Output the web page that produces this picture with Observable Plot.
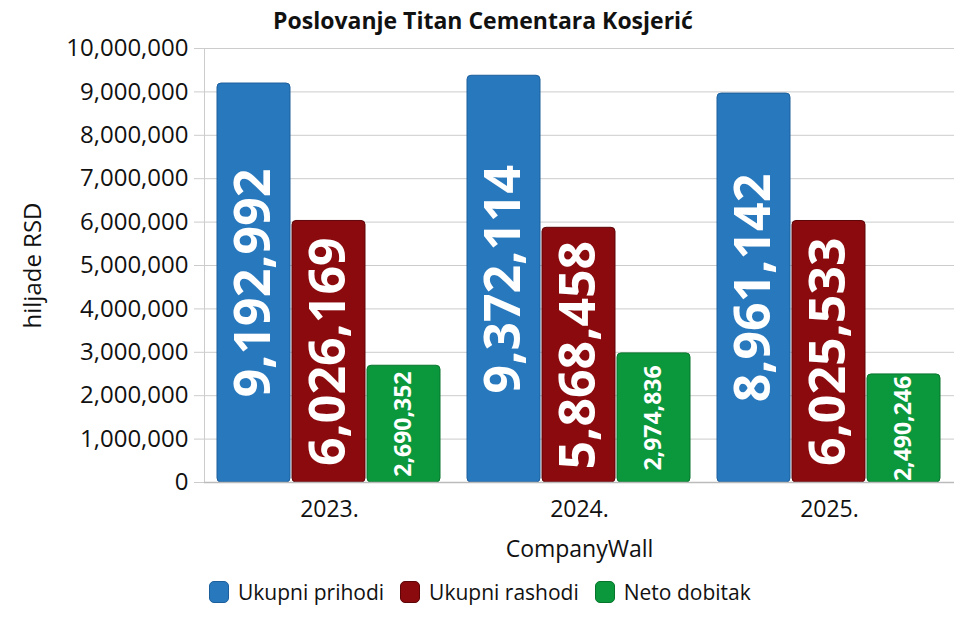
<!DOCTYPE html>
<html>
<head>
<meta charset="utf-8">
<script src="https://cdn.jsdelivr.net/npm/d3@7"></script>
<script src="https://cdn.jsdelivr.net/npm/@observablehq/plot@0.6"></script>
<style>
  html, body { margin: 0; padding: 0; background: #fff; }
  #wrap { position: relative; width: 966px; height: 630px; font-family: "Open Sans", sans-serif; color: #111; }
  #title { position: absolute; left: 0; top: 5px; width: 966px; text-align: center; font-weight: bold; font-size: 23px; line-height: 30px; }
  #chart { position: absolute; left: 0; top: 0; }
  #legend { position: absolute; left: 209px; top: 578px; display: flex; align-items: center; font-size: 21px; line-height: 28px; }
  .item { display: flex; align-items: center; margin-right: 16px; }
  .sw { width: 20px; height: 22px; border-radius: 5px; margin-right: 9px; box-sizing: border-box; border: 1px solid; }
</style>
</head>
<body>
<div id="wrap">
  <div id="chart"></div>
  <div id="title">Poslovanje Titan Cementara Kosjerić</div>
  <div id="legend"></div>
</div>
<script>
const years = ["2023.", "2024.", "2025."];
const series = ["Ukupni prihodi", "Ukupni rashodi", "Neto dobitak"];
const prihodi = [9192992, 9372114, 8961142];
const rashodi = [6026169, 5868458, 6025533];
const dobitak = [2690352, 2974836, 2490246];
const yTicks = [0, 1000000, 2000000, 3000000, 4000000, 5000000, 6000000, 7000000, 8000000, 9000000, 10000000];
const colors = ["#2878bd", "#8b0a0e", "#0b983c"];
const strokes = ["#1d5f9c", "#5e0508", "#08752d"];

const valuesBySeries = [prihodi, rashodi, dobitak];
const data = years.flatMap((y, i) =>
  series.map((s, j) => ({ year: y, series: s, value: valuesBySeries[j][i] }))
);
const fmt = d3.format(",");
const strokeOf = s => strokes[series.indexOf(s)];

const chart = Plot.plot({
  width: 966,
  height: 570,
  marginTop: 48,
  marginBottom: 88,
  marginLeft: 204,
  marginRight: 12,
  style: { fontFamily: "Open Sans, sans-serif", fontSize: "23px", color: "#111", background: "transparent" },
  fx: { domain: years, padding: 0 },
  x: { domain: series, axis: null, paddingInner: 0.026, paddingOuter: 0.158 },
  y: { domain: [0, 10000000] },
  color: { domain: series, range: colors },
  marks: [
    Plot.gridY(yTicks, { stroke: "#cccccc", strokeOpacity: 1 }),
    Plot.frame({ anchor: "left", facet: "super", stroke: "#cccccc" }),
    Plot.axisY(yTicks, {
      tickFormat: fmt, tickSize: 10, tickPadding: 6, stroke: "#cccccc",
      fill: "#111", fontSize: 24,
      label: "hiljade RSD", labelAnchor: "center", labelArrow: "none", labelOffset: 181
    }),
    Plot.axisFx({
      anchor: "bottom", tickSize: 0, tickPadding: 18, fontSize: 23, fill: "#111",
      label: "CompanyWall", labelAnchor: "center", labelArrow: "none", labelOffset: 74
    }),
    Plot.barY(data, {
      fx: "year", x: "series", y: "value", fill: "series",
      stroke: d => strokeOf(d.series), strokeWidth: 1, rx: 4
    }),
    Plot.ruleY([0], { stroke: "#bbbbbb", strokeWidth: 1.5 }),
    Plot.text(data, {
      fx: "year", x: "series", y: d => d.value / 2,
      text: d => fmt(d.value), rotate: -90, fill: "white", fontWeight: "bold",
      fontSize: d => (d.series === "Neto dobitak" ? 23 : 50),
      fontFamily: "Open Sans, sans-serif"
    })
  ]
});
document.getElementById("chart").appendChild(chart);

const legend = document.getElementById("legend");
series.forEach((s, j) => {
  const item = document.createElement("div");
  item.className = "item";
  const sw = document.createElement("div");
  sw.className = "sw";
  sw.style.background = colors[j];
  sw.style.borderColor = strokes[j];
  const label = document.createElement("span");
  label.textContent = s;
  item.appendChild(sw);
  item.appendChild(label);
  legend.appendChild(item);
});
</script>
</body>
</html>
